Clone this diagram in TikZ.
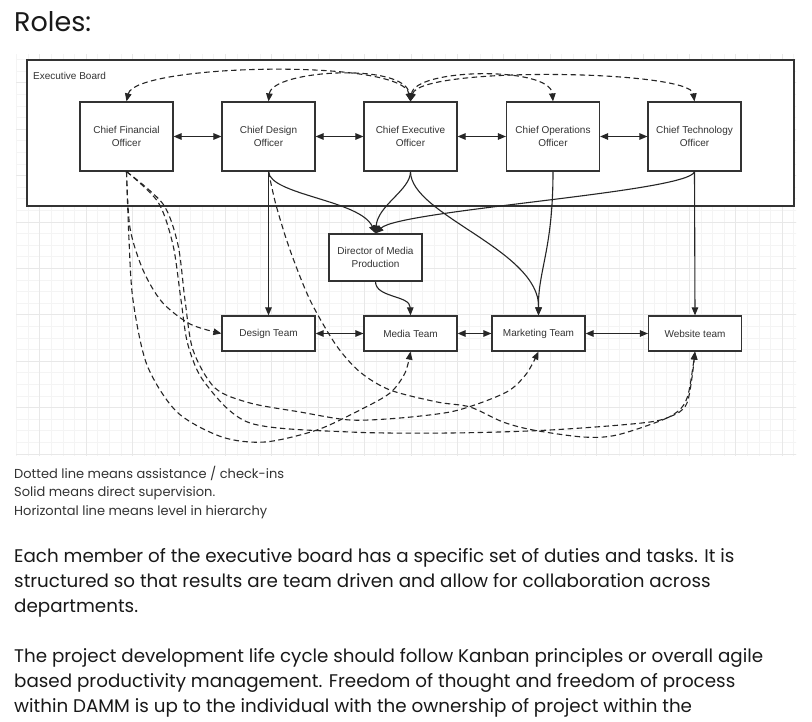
\documentclass[tikz,border=0pt]{standalone}
\usepackage{fontspec}
\setmainfont{Poppins}
\newfontfamily\chartfont{Liberation Sans}
\usetikzlibrary{arrows.meta}

\definecolor{gridminor}{HTML}{F4F4F4}
\definecolor{gridmajor}{HTML}{E8E8E8}
\definecolor{ink}{HTML}{333333}

\tikzset{
  officer/.style={draw=ink, line width=1.2pt, fill=white, inner sep=0pt,
    minimum width=93pt, minimum height=69pt, align=center, text=ink,
    font=\chartfont\fontsize{10}{12.5}\selectfont},
  team/.style={officer, minimum height=35pt},
  supline/.style={line width=1.1pt, draw=black!85, -{Triangle[length=8pt,width=6.5pt]}},
  assist/.style={supline, dash pattern=on 5.5pt off 3.5pt},
  assistboth/.style={assist, {Triangle[length=8pt,width=6.5pt]}-{Triangle[length=8pt,width=6.5pt]}},
  peer/.style={line width=1.1pt, draw=black!85, {Triangle[length=8pt,width=6.5pt]}-{Triangle[length=8pt,width=6.5pt]}},
}

\begin{document}
\begin{tikzpicture}[x=1pt,y=-1pt]
    \useasboundingbox (0,0) rectangle (812,722);
    \fill[white] (0,0) rectangle (812,722);

    % light grid behind the chart
    \begin{scope}
        \clip (16,55) rectangle (796,455);
        \draw[gridminor, line width=0.8pt, shift={(4.9,1.6)}, step=11.6pt] (0,460) grid (800,40);
        \draw[gridmajor, line width=0.8pt, shift={(39.7,36.4)}, step=46.4pt] (-40,460) grid (800,0);
    \end{scope}

    \node[anchor=base west, inner sep=0pt, text=black!90, font=\fontsize{27}{32}\selectfont] (roles) at (14,32) {Roles:};

    % executive board
    \node[draw=ink, line width=1.2pt, fill=white, inner sep=0pt, minimum width=767pt, minimum height=146pt] (board) at (410.5,133) {};
    \node[anchor=west, inner sep=0pt, text=ink, font=\chartfont\fontsize{10}{12}\selectfont] (boardname) at (33,76) {Executive Board};

    \node[officer] (cfo) at (126.5,136.5) {Chief Financial\\Officer};
    \node[officer] (cdo) at (268.5,136.5) {Chief Design\\Officer};
    \node[officer] (ceo) at (410.5,136.5) {Chief Executive\\Officer};
    \node[officer] (coo) at (553,136.5) {Chief Operations\\Officer};
    \node[officer] (cto) at (694.5,136.5) {Chief Technology\\Officer};

    \node[officer, minimum height=47pt] (dmp) at (375.5,257.5) {Director of Media\\Production};

    \node[team] (design) at (268.5,333.5) {Design Team};
    \node[team] (media) at (410.5,333.5) {Media Team};
    \node[team] (mkt) at (538.5,333.5) {Marketing Team};
    \node[team] (web) at (695,333.5) {Website team};

    % same level
    \draw[peer] (cfo) -- (cdo);
    \draw[peer] (cdo) -- (ceo);
    \draw[peer] (ceo) -- (coo);
    \draw[peer] (coo) -- (cto);
    \draw[peer] (design) -- (media);
    \draw[peer] (media) -- (mkt);
    \draw[peer] (mkt) -- (web);

    % check-ins inside the board
    \draw[assistboth] (cfo.north) .. controls (135,64) and (402,58) .. (ceo.north);
    \draw[assistboth] (cdo.north) .. controls (272,70) and (405,62) .. (ceo.north);
    \draw[assistboth] (ceo.north) .. controls (415,68) and (550,66) .. (coo.north);
    \draw[assistboth] (ceo.north) .. controls (420,66) and (690,70) .. (cto.north);

    % direct supervision
    \draw[supline] (cdo.south) -- (design.north);
    \draw[supline] (cto.south) -- (web.north);
    \draw[supline] (cdo.south) .. controls (270,195) and (360,200) .. (dmp.north);
    \draw[supline] (ceo.south) .. controls (410.5,190) and (378,205) .. (dmp.north);
    \draw[supline] (cto.south) .. controls (690,192) and (400,210) .. (dmp.north);
    \draw[supline] (ceo.south) .. controls (410.5,215) and (540,250) .. (mkt.north);
    \draw[supline] (coo.south) .. controls (553,250) and (538,270) .. (mkt.north);
    \draw[supline] (dmp.south) .. controls (375.5,298) and (410,295) .. (media.north);

    % check-ins with the teams
    \draw[assist] plot[smooth] coordinates {(cfo.south) (130,228) (143,270) (162,302) (190,324) (design.west)};
    \draw[assist] plot[smooth] coordinates {(cfo.south) (129,240) (133,300) (147,365) (177,412) (222,437) (265,442) (317,430) (360,410) (390,393) (405,373) (media.south)};
    \draw[assist] plot[smooth] coordinates {(cfo.south) (163,204) (178,245) (185,300) (193,350) (215,388) (250,403) (300,412) (350,420) (400,418) (450,412) (483,402) (510,390) (527,373) (mkt.south)};
    \draw[assist] plot[smooth] coordinates {(cfo.south) (158,202) (173,245) (181,300) (188,345) (205,383) (250,423) (350,432) (450,433) (550,430) (650,422) (677,412) (688,395) (web.south)};
    \draw[assist] plot[smooth] coordinates {(cdo.south) (276,205) (290,250) (310,300) (336,345) (360,372) (390,390) (437,402) (470,407) (503,422) (533,430) (583,437) (617,435) (667,418) (687,403) (web.south)};

    \node[anchor=north west, align=left, inner sep=0pt, text=ink, font=\fontsize{13}{18.5}\selectfont] (legend) at (14,466) {Dotted line means assistance / check-ins\\Solid means direct supervision.\\Horizontal line means level in hierarchy};

    \node[anchor=north west, align=left, inner sep=0pt, text=black!90, font=\fontsize{18.3}{25}\selectfont] (duties) at (14,548.5) {Each member of the executive board has a specific set of duties and tasks. It is\\structured so that results are team driven and allow for collaboration across\\departments.};
    \node[anchor=north west, align=left, inner sep=0pt, text=black!90, font=\fontsize{18.3}{25}\selectfont] (kanban) at (14,648.5) {The project development life cycle should follow Kanban principles or overall agile\\based productivity management. Freedom of thought and freedom of process\\within DAMM is up to the individual with the ownership of project within the};
\end{tikzpicture}
\end{document}
